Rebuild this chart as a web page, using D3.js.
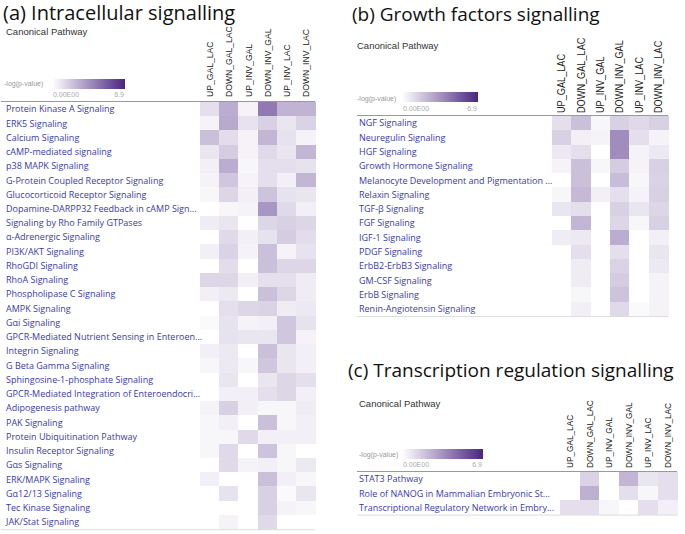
<!DOCTYPE html>
<html><head><meta charset="utf-8">
<script src="https://cdn.jsdelivr.net/npm/d3@7"></script>
<style>body{margin:0;background:#fff} svg{display:block}</style>
</head><body>
<svg id="chart" width="685" height="534"></svg>
<script>
const columns = ["UP_GAL_LAC","DOWN_GAL_LAC","UP_INV_GAL","DOWN_INV_GAL","UP_INV_LAC","DOWN_INV_LAC"];
const legendTicks = ["0.00E00","6.9"];
const legendMax = 6.9;
const titles = ["(a) Intracellular signalling","(b) Growth factors signalling","(c) Transcription regulation signalling"];

const pathwaysA = ["Protein Kinase A Signaling","ERK5 Signaling","Calcium Signaling","cAMP-mediated signaling","p38 MAPK Signaling","G-Protein Coupled Receptor Signaling","Glucocorticoid Receptor Signaling","Dopamine-DARPP32 Feedback in cAMP Sign...","Signaling by Rho Family GTPases","\u03b1-Adrenergic Signaling","PI3K/AKT Signaling","RhoGDI Signaling","RhoA Signaling","Phospholipase C Signaling","AMPK Signaling","G\u03b1i Signaling","GPCR-Mediated Nutrient Sensing in Enteroen...","Integrin Signaling","G Beta Gamma Signaling","Sphingosine-1-phosphate Signaling","GPCR-Mediated Integration of Enteroendocri...","Adipogenesis pathway","PAK Signaling","Protein Ubiquitination Pathway","Insulin Receptor Signaling","G\u03b1s Signaling","ERK/MAPK Signaling","G\u03b112/13 Signaling","Tec Kinase Signaling","JAK/Stat Signaling"];
const valuesA = [
[1.0,2.6,0.4,4.2,2.4,2.4],
[0.4,2.7,0.9,1.5,0.8,1.4],
[2.0,1.1,0.4,2.3,0.9,0.4],
[0.8,1.6,0.4,1.2,0.8,2.3],
[0.5,2.6,0.3,1.0,1.0,0.9],
[0.4,1.8,0.4,1.0,0.5,2.3],
[0.3,1.3,0.5,1.9,0.9,0.8],
[0,0.3,0.4,3.3,1.2,0.5],
[0.6,0.8,0,1.3,1.5,1.3],
[0,1.2,0.5,0.9,1.6,1.1],
[0.5,1.4,0.4,2.0,0.4,0.9],
[0,1.1,0,2.0,1.3,1.3],
[1.3,1.3,0.5,1.0,1.0,0.6],
[0.5,0.7,0,2.0,1.3,0.6],
[0,1.0,1.3,1.4,0.6,0.7],
[0.2,0.9,0.4,0.5,1.8,0.9],
[0,0.9,0.8,0.8,1.8,0.4],
[0.5,0.7,0,2.0,0.8,0.5],
[0.3,0.7,0.3,1.8,0.8,0.5],
[0,0.8,0,0.8,1.3,1.0],
[0,0.5,0.5,1.0,1.3,0.5],
[0.4,1.5,0.5,0.3,0.3,0.6],
[0.3,0.5,0,2.0,0.3,0.5],
[0.3,0.3,1.2,0.5,0.5,0.5],
[0.3,1.2,0,1.9,0.3,0],
[0,1.2,0.4,0.5,0.3,0.7],
[0.5,0,0,2.0,0.5,0.3],
[0,0.9,0,1.5,0.2,0.8],
[0,0,0,1.5,0.4,0.3],
[0,0.4,0,1.2,0,0]
];

const pathwaysB = ["NGF Signaling","Neuregulin Signaling","HGF Signaling","Growth Hormone Signaling","Melanocyte Development and Pigmentation ...","Relaxin Signaling","TGF-\u03b2 Signaling","FGF Signaling","IGF-1 Signaling","PDGF Signaling","ErbB2-ErbB3 Signaling","GM-CSF Signaling","ErbB Signaling","Renin-Angiotensin Signaling"];
const valuesB = [
[1.0,2.0,0.3,1.5,1.2,1.5],
[1.5,0.5,0.4,3.6,1.0,0.4],
[0.7,1.0,0,3.6,0.4,0.7],
[0.4,2.0,0.3,1.6,0.4,1.5],
[0,2.0,0,2.1,0.3,1.4],
[0.3,2.2,0.5,1.0,0.4,1.5],
[0.8,1.0,0,1.5,0.8,1.3],
[0,2.3,0,1.3,0.3,1.5],
[0.6,0.7,0,2.6,0,0.5],
[0,1.0,0,1.0,0,0.8],
[0,0.6,0,1.4,0,0.7],
[0,0.6,0,1.6,0,0.4],
[0,0.3,0,1.9,0,0.4],
[0,0.5,0,1.2,0.2,0.4]
];

const pathwaysC = ["STAT3 Pathway","Role of NANOG in Mammalian Embryonic St...","Transcriptional Regulatory Network in Embry..."];
const valuesC = [
[0,1.4,0,2.3,0.8,1.0],
[0,2.5,0,1.0,0.3,1.0],
[1.0,1.0,0.3,0,1.0,0.5]
];

const colorMax = "#4a2580";
const titleFont = "'Open Sans', 'Noto Sans', sans-serif";
const labelFont = "'Open Sans', 'Noto Sans', sans-serif";
const axisFont = "'Liberation Sans', Arial, sans-serif";

const svg = d3.select("#chart");
const defs = svg.append("defs");
const grad = defs.append("linearGradient").attr("id","lg");
grad.append("stop").attr("offset","0%").attr("stop-color","#ffffff");
grad.append("stop").attr("offset","100%").attr("stop-color",colorMax);

const color = d3.scaleLinear().domain([0, legendMax]).range(["#ffffff", colorMax]);

function panel(cfg, title, rows, values) {
  const g = svg.append("g");
  g.append("text").attr("x", cfg.titleX).attr("y", cfg.titleY)
    .style("font-family", titleFont).style("font-size", cfg.titleSize + "px").attr("fill", "#111").text(title);
  g.append("text").attr("x", cfg.cpX).attr("y", cfg.cpY)
    .style("font-family", axisFont).style("font-size", "9.5px").attr("fill", "#333").text("Canonical Pathway");
  // legend
  g.append("text").attr("x", cfg.lgLabelX).attr("y", cfg.lgLabelY)
    .style("font-family", axisFont).style("font-size", "7px").attr("fill", "#999").text("-log(p-value)");
  g.append("rect").attr("x", cfg.barX).attr("y", cfg.barY).attr("width", cfg.barW).attr("height", cfg.barH).attr("fill", "url(#lg)");
  const lx = d3.scaleLinear().domain([0, legendMax]).range([cfg.barX + 14, cfg.barX + cfg.barW - 6]);
  g.selectAll(".lt").data(legendTicks).join("text")
    .attr("x", (d, i) => lx(i === 0 ? 0 : legendMax)).attr("y", cfg.tickY)
    .attr("text-anchor", "middle")
    .style("font-family", axisFont).style("font-size", "7px").attr("fill", "#aaa").text(d => d);

  const x = d3.scaleBand().domain(columns).range([cfg.x0, cfg.x1]);
  const y = d3.scaleBand().domain(rows).range([cfg.y0, cfg.y0 + rows.length * cfg.rowH]);

  const cells = [];
  rows.forEach((r, i) => columns.forEach((c, j) => cells.push({r, c, v: values[i][j]})));
  g.append("g").attr("shape-rendering", "crispEdges").selectAll("rect").data(cells).join("rect")
    .attr("x", d => x(d.c)).attr("y", d => y(d.r))
    .attr("width", x.bandwidth() + 0.5).attr("height", y.bandwidth() + 0.5)
    .attr("fill", d => color(d.v));

  // column labels
  g.selectAll(".cl").data(columns).join("text")
    .attr("transform", d => `translate(${x(d) + x.bandwidth() / 2 + 3.6},${cfg.colBottom}) rotate(-90) scale(${cfg.colScale},1)`)
    .style("font-family", axisFont).style("font-size", cfg.colSize + "px").attr("fill", "#222").text(d => d);

  // row labels
  g.selectAll(".rl").data(rows).join("text")
    .attr("x", cfg.rowX).attr("y", d => y(d) + y.bandwidth() / 2 + 3.2)
    .style("font-family", labelFont).style("font-size", cfg.rowSize + "px").attr("fill", "#3a3aa8").text(d => d);

  // lines
  g.append("line").attr("x1", cfg.lineX0).attr("x2", cfg.x1).attr("y1", cfg.y0 - 0.5).attr("y2", cfg.y0 - 0.5)
    .attr("stroke", "#999").attr("stroke-width", 1);
  const yEnd = cfg.y0 + rows.length * cfg.rowH;
  g.append("line").attr("x1", cfg.lineX0).attr("x2", cfg.x1).attr("y1", yEnd + 0.5).attr("y2", yEnd + 0.5)
    .attr("stroke", "#ddd").attr("stroke-width", 1);
}

panel({titleX:3, titleY:20, titleSize:20, cpX:6, cpY:35, lgLabelX:4, lgLabelY:86, barX:52, barY:79, barW:73, barH:10, tickY:97,
  x0:200, x1:315, y0:102, rowH:14.24, colBottom:97, colSize:9.8, colScale:0.88, rowX:6, rowSize:9, lineX0:1},
  titles[0], pathwaysA, valuesA);

panel({titleX:352, titleY:21, titleSize:19, cpX:357, cpY:49, lgLabelX:357, lgLabelY:101, barX:402, barY:92, barW:76, barH:10, tickY:111,
  x0:552, x1:668, y0:116, rowH:14.29, colBottom:113, colSize:10.2, colScale:0.9, rowX:359, rowSize:9, lineX0:357},
  titles[1], pathwaysB, valuesB);

panel({titleX:348, titleY:377, titleSize:19, cpX:359, cpY:407, lgLabelX:359, lgLabelY:457, barX:402, barY:449, barW:81, barH:10, tickY:467,
  x0:560, x1:677, y0:472, rowH:14.2, colBottom:468, colSize:9.6, colScale:0.86, rowX:359, rowSize:9, lineX0:357},
  titles[2], pathwaysC, valuesC);
</script>
</body></html>
